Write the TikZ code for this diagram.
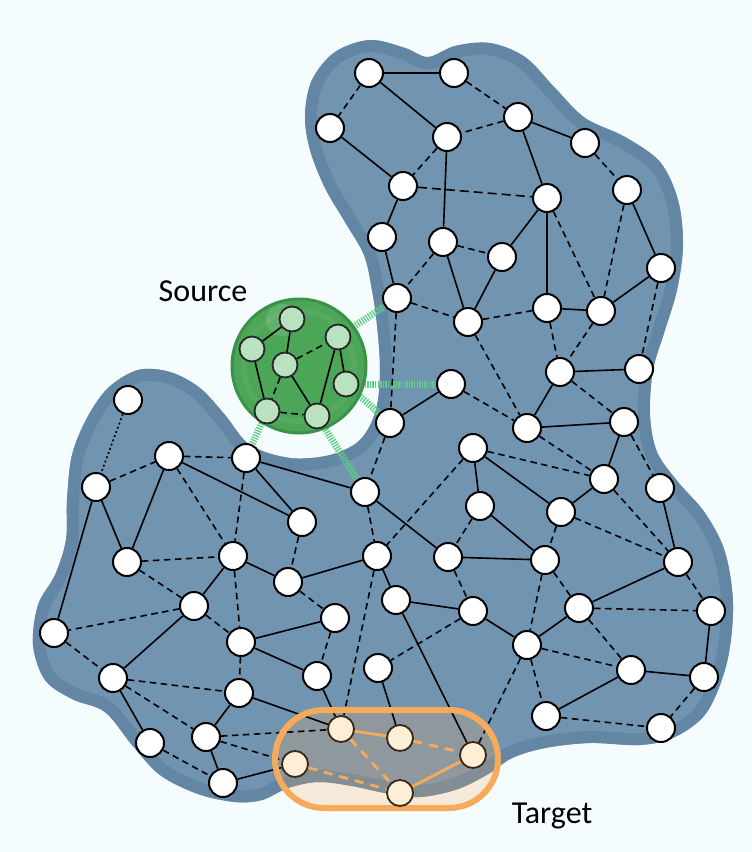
\documentclass[tikz,border=0pt]{standalone}
\usepackage{fontspec}
\setmainfont{Carlito}
\pgfdeclarelayer{bg}
\pgfdeclarelayer{edges}
\pgfdeclarelayer{tgt}
\pgfsetlayers{bg,edges,tgt,main}
\definecolor{bgc}{RGB}{245,252,253}
\definecolor{blobc}{RGB}{113,148,177}
\definecolor{blobb}{RGB}{99,134,165}
\definecolor{srcg}{RGB}{76,166,88}
\definecolor{srcgb}{RGB}{58,145,72}
\definecolor{srcnode}{RGB}{186,225,192}
\definecolor{stripeg}{RGB}{95,205,135}
\definecolor{tgto}{RGB}{247,170,90}
\definecolor{tgtnode}{RGB}{253,238,214}
\definecolor{tgtline}{RGB}{55,40,25}
\tikzset{
 bn/.style={circle, draw=black, fill=white, line width=2pt, minimum size=28pt, inner sep=0pt},
 sn/.style={circle, draw=black!85, fill=srcnode, line width=1.8pt, minimum size=25pt, inner sep=0pt},
 tn/.style={circle, draw=tgtline, fill=tgtnode, line width=1.8pt, minimum size=26pt, inner sep=0pt},
 sl/.style={line width=1.6pt, black},
 dl/.style={line width=1.6pt, black, dash pattern=on 6.5pt off 4.5pt},
 dotl/.style={line width=1.6pt, black, dash pattern=on 2pt off 2.5pt},
 ol/.style={line width=2.8pt, tgto},
 odl/.style={line width=2.8pt, tgto, dash pattern=on 9pt off 7pt},
 stripe/.style={line width=7pt, stripeg, dash pattern=on 1.3pt off 1.3pt},
 lbl/.style={font=\fontsize{32}{35}\selectfont, text=black, inner sep=0pt}
}
\begin{document}
\begin{tikzpicture}[x=1pt,y=-1pt]
\useasboundingbox (0,0) rectangle (752,852);
\begin{pgfonlayer}{bg}
\fill[bgc] (0,0) rectangle (752,852);
\path[save path=\blobp] plot[smooth cycle, tension=0.55] coordinates {
(305,115) (312,80) (335,52) (370,40) (405,48) (428,57) (455,46) (490,43) (525,57) (555,88) (585,118) (625,137) (660,162) (678,200) (683,245) (677,290) (665,330) (653,370) (650,415) (657,452) (678,482) (705,513) (725,552) (733,605) (727,662) (707,712) (675,737) (640,745) (590,743) (545,748) (512,758) (490,773) (458,789) (420,797) (385,793) (352,786) (318,782) (288,788) (262,800) (235,802) (198,794) (160,775) (132,745) (105,712) (72,699) (45,680) (33,645) (38,605) (55,575) (66,540) (67,500) (72,455) (87,418) (108,388) (138,370) (170,372) (200,388) (225,415) (250,445) (290,458) (330,455) (360,440) (376,410) (380,370) (377,325) (372,290) (364,255) (345,222) (325,188) (310,150)};
\fill[blobc, use path=\blobp];
\begin{scope}
\clip[use path=\blobp];
\draw[blobb, line width=24pt, use path=\blobp];
\end{scope}
\fill[tgto, fill opacity=0.22, rounded corners=49pt] (275,710) rectangle (498,808);
\end{pgfonlayer}

% blue nodes
\foreach \n/\x/\y in {n1/369/73, n2/454/73, n3/518/117, n4/330/128, n5/447/137, n6/585/143, n7/403/186, n8/547/198, n9/627/190, n10/382/237, n11/443/242, n12/502/257, n13/661/268, n14/397/298, n15/468/322, n16/547/308, n17/601/311, n18/560/372, n19/639/369, n20/527/428, n21/624/422, n22/604/479, n23/660/488, n24/473/448, n25/561/512, n26/480/506, n27/451/384, n28/390/423, n29/246/458, n30/365/492, n31/302/522, n32/128/400, n33/96/487, n34/169/456, n35/127/562, n36/233/556, n37/288/582, n38/194/606, n39/54/633, n40/241/642, n41/113/678, n42/239/693, n43/150/743, n44/206/737, n45/223/783, nA/377/556, nB/448/557, nC/545/560, nD/396/600, nE/473/611, nF/335/618, nG/527/645, nH/317/676, nI/378/668, nJ/546/716, nK/678/562, nL/579/608, nM/711/611, nN/631/670, nO/704/677, nP/661/728}
  \node[bn] (\n) at (\x,\y) {};
% source nodes
\foreach \n/\x/\y in {s1/292/319, s2/252/349, s3/338/337, s4/285/365, s5/346/384, s6/267/411, s7/317/416}
  \node[sn] (\n) at (\x,\y) {};
% target nodes
\foreach \n/\x/\y in {t1/341/729, t2/295/764, t3/400/738, t4/473/755, t5/400/793}
  \node[tn] (\n) at (\x,\y) {};

\begin{pgfonlayer}{edges}
\foreach \a/\b in {s3/n14, s5/n27, s5/n28, s6/n29, s7/n30}
  \draw[stripe] (\a) -- (\b);
\node[circle, fill=srcg, draw=srcgb, line width=3pt, minimum size=134pt, inner sep=0pt] (srccirc) at (299,366) {};
\fill[srcg!85!white, opacity=0.35] (299,366) circle (58pt);
\fill[srcg] (299,366) circle (52pt);
\fill[white, opacity=0.12] (282,320) circle (16pt);
\foreach \a/\b in {s1/s2, s1/s4, s2/s6, s4/s7, s3/s7, s3/s5}
  \draw[sl] (\a) -- (\b);
\foreach \a/\b in {s4/s3, s4/s6, s6/s7}
  \draw[dl] (\a) -- (\b);
\foreach \a/\b in {n1/n2, n1/n5, n4/n7, n5/n11, n7/n10, n3/n6, n3/n8, n8/n12, n8/n16, n9/n13, n13/n17, n16/n17, n10/n14, n11/n15, n12/n15, n18/n19, n18/n20, n20/n21, n21/n22, n27/n28, n24/n25, n24/n26, n25/n22, n26/nC, nB/nC, n29/n30, n29/n31, n34/n31, n34/n35, n33/n35, n33/n39, n36/n38, n36/n37, n37/nA, n30/nB, nA/nD, nD/nE, nE/nG, nD/t4, nI/t3, n38/n41, n40/nF, n40/nH, nH/t1, n41/n43, n42/n44, n42/t1, n44/n45, n45/t2, n23/nK, nK/nL, nL/nG, nM/nO, nN/nO, nN/nJ}
  \draw[sl] (\a) -- (\b);
\foreach \a/\b in {n1/n4, n2/n3, n3/n5, n5/n7, n11/n12, n11/n14, n6/n9, n8/n17, n9/n17, n14/n15, n14/n28, n15/n16, n15/n20, n16/n18, n17/n18, n13/n19, n18/n21, n21/n23, n27/n20, n20/n22, n24/n22, n28/n30, n24/nA, n26/nB, n25/nC, n25/nK, n22/nK, n30/nA, nB/nE, nC/nG, nC/nL, n33/n34, n34/n29, n34/n36, n29/n36, n31/n37, n35/n36, n35/n38, n36/n40, n37/nF, n38/n39, n38/n40, n39/n41, n40/n42, nF/nH, n41/n42, n41/n44, n43/n45, n44/t1, n44/t2, nA/t1, nE/nI, nG/t4, nG/nJ, nK/nM, nL/nM, nL/nN, nG/nN, nJ/nP, nO/nP}
  \draw[dl] (\a) -- (\b);
\draw[line width=1.6pt, dash pattern=on 9pt off 5pt] (n7) -- (n8);
\draw[dotl] (n32) -- (n33);
\end{pgfonlayer}

\begin{pgfonlayer}{tgt}
\draw[tgto, line width=6pt, rounded corners=49pt] (275,710) rectangle (498,808);
\draw[ol] (t1) -- (t3);
\draw[ol] (t5) -- (t4);
\draw[odl] (t1) -- (t5);
\draw[odl] (t3) -- (t4);
\draw[odl] (t2) -- (t5);
\end{pgfonlayer}

\node[lbl] (srclabel) at (203,291) {Source};
\node[lbl] (tgtlabel) at (552,816) {Target};
\end{tikzpicture}
\end{document}
